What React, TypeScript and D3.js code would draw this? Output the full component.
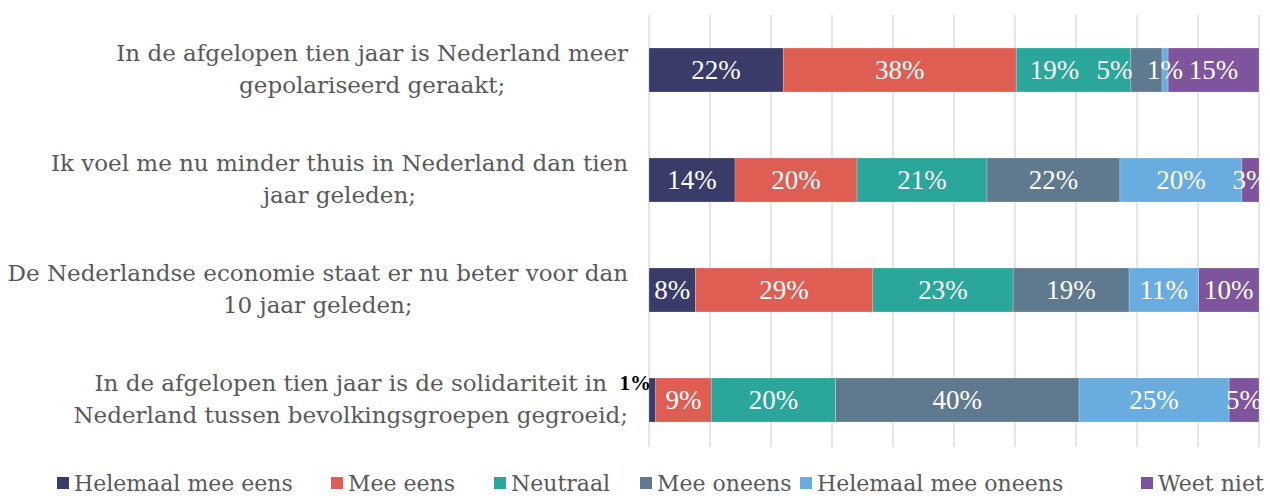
import * as d3 from "d3";
import React, { useEffect, useRef } from "react";

// Stellingen (van boven naar beneden)
const statements = [
  ["In de afgelopen tien jaar is Nederland meer", "gepolariseerd geraakt;"],
  ["Ik voel me nu minder thuis in Nederland dan tien", "jaar geleden;"],
  ["De Nederlandse economie staat er nu beter voor dan", "10 jaar geleden;"],
  ["In de afgelopen tien jaar is de solidariteit in", "Nederland tussen bevolkingsgroepen gegroeid;"],
];

const answers = ["Helemaal mee eens", "Mee eens", "Neutraal", "Mee oneens", "Helemaal mee oneens", "Weet niet"];
const colors = ["#393c69", "#de5e53", "#2aa69b", "#5f7a8e", "#69ade0", "#7e549c"];

// Percentages per stelling, in de volgorde van answers
const helemaalMeeEens = [22.0, 14.1, 7.6, 1.1];
const meeEens = [38.2, 20.0, 29.1, 9.1];
const neutraal = [18.8, 21.3, 23.0, 20.4];
const meeOneens = [5.1, 21.8, 19.0, 39.9];
const helemaalMeeOneens = [1.0, 20.0, 11.4, 24.6];
const weetNiet = [14.9, 2.8, 9.9, 4.9];

const series = [helemaalMeeEens, meeEens, neutraal, meeOneens, helemaalMeeOneens, weetNiet];

// Labels die verschoven zijn: [stelling, antwoord, dx, dy, buiten de balk]
const movedLabels = [
  [0, 2, -19, 0, 0],
  [0, 3, -32, 0, 0],
  [3, 0, -17, -17, 1],
];

export default function App() {
  const ref = useRef(null);

  useEffect(() => {
    const width = 1270;
    const svg = d3.select(ref.current);
    svg.selectAll("*").remove();

    const margin = { top: 15, right: 11, left: 649 };
    const x = d3.scaleLinear([0, 100], [margin.left, width - margin.right]);
    const y = d3
      .scaleBand(d3.range(statements.length), [margin.top, 455])
      .paddingInner(0.6)
      .paddingOuter(0.3);

    // Verticale rasterlijnen
    svg
      .append("g")
      .selectAll("line")
      .data(d3.range(0, 101, 10))
      .join("line")
      .attr("x1", (d) => x(d))
      .attr("x2", (d) => x(d))
      .attr("y1", margin.top)
      .attr("y2", 447)
      .attr("stroke", "#d9d9d9")
      .attr("stroke-width", 1.3);

    const rows = statements.map((_, i) => {
      const o: any = { i };
      answers.forEach((a, k) => (o[a] = series[k][i]));
      return o;
    });
    const stacked = d3.stack().keys(answers)(rows);

    svg
      .append("g")
      .selectAll("g")
      .data(stacked)
      .join("g")
      .attr("fill", (_, k) => colors[k])
      .selectAll("rect")
      .data((d) => d)
      .join("rect")
      .attr("x", (d) => x(d[0]))
      .attr("y", (d, i) => y(i))
      .attr("width", (d) => x(d[1]) - x(d[0]))
      .attr("height", y.bandwidth())
      .attr("stroke", "#ffffff")
      .attr("stroke-opacity", 0.35)
      .attr("stroke-width", 0.6);

    // Datalabels
    stacked.forEach((layer, k) => {
      layer.forEach((d, i) => {
        const moved = movedLabels.find((m) => m[0] === i && m[1] === k);
        const outside = moved && moved[4] === 1;
        svg
          .append("text")
          .attr("x", (x(d[0]) + x(d[1])) / 2 + (moved ? moved[2] : 0))
          .attr("y", y(i) + y.bandwidth() / 2 + (moved ? moved[3] : 0))
          .attr("dy", "0.35em")
          .attr("text-anchor", "middle")
          .attr("font-family", "'Liberation Serif', serif")
          .attr("font-size", outside ? 21 : 27)
          .attr("font-weight", outside ? "bold" : "normal")
          .attr("fill", outside ? "#000000" : "#ffffff")
          .text(Math.round(series[k][i]) + "%");
      });
    });

    // Categorielabels: regels gecentreerd binnen een rechts uitgelijnd blok
    const cat = svg
      .append("g")
      .attr("font-family", "'DejaVu Serif', serif")
      .attr("font-size", 23)
      .attr("fill", "#595959")
      .attr("text-anchor", "middle");
    statements.forEach((lines, i) => {
      const cy = y(i) + y.bandwidth() / 2;
      const texts = lines.map((line, j) =>
        cat
          .append("text")
          .attr("y", cy - 1 + (j - 0.5) * 32)
          .attr("dy", "0.35em")
          .text(line)
      );
      const maxW = d3.max(texts, (t) => (t.node() as SVGTextElement).getComputedTextLength()) || 0;
      texts.forEach((t) => t.attr("x", 628 - maxW / 2));
    });

    // Legenda
    const legendX = [57, 331, 494, 640, 800, 1141];
    const legend = svg
      .append("g")
      .selectAll("g")
      .data(answers)
      .join("g")
      .attr("transform", (_, k) => `translate(${legendX[k]},483)`);
    legend
      .append("rect")
      .attr("y", -6)
      .attr("width", 12)
      .attr("height", 12)
      .attr("fill", (_, k) => colors[k]);
    legend
      .append("text")
      .attr("x", 17)
      .attr("dy", "0.35em")
      .attr("font-family", "'DejaVu Serif', serif")
      .attr("font-size", 22)
      .attr("fill", "#595959")
      .text((d) => d);
  }, []);

  return <svg ref={ref} width={1270} height={496} style={{ position: "absolute", left: 0, top: 0 }} />;
}
